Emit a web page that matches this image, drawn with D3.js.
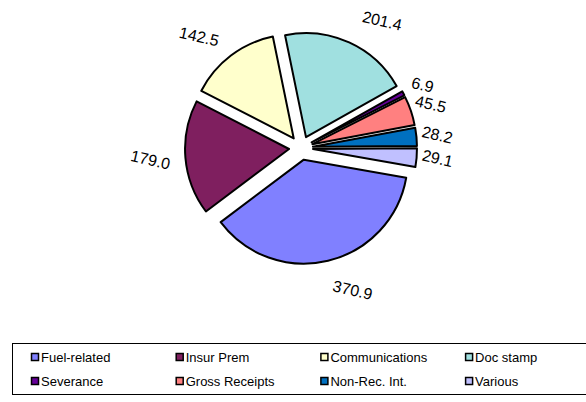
<!DOCTYPE html>
<html>
<head>
<meta charset="utf-8">
<script src="https://cdn.jsdelivr.net/npm/d3@7"></script>
<style>
  body { margin: 0; background: #fff; }
  svg { display: block; font-family: Arial, "Liberation Sans", sans-serif; }
</style>
</head>
<body>
<script>
// slice data, in drawing order (clockwise)
var categories = ["Fuel-related", "Insur Prem", "Communications", "Doc stamp",
                  "Severance", "Gross Receipts", "Non-Rec. Int.", "Various"];
var values = [370.9, 179.0, 142.5, 201.4, 6.9, 45.5, 28.2, 29.1];
var colors = ["#8080FF", "#7F1F5F", "#FFFFCC", "#A0E0E0",
              "#660099", "#FF8080", "#0070C0", "#C0C0FF"];
// small angular nudges (deg) for label placement, like the original layout
var labelNudge = [-6.5, 0.4, -5.3, 8, 0.6, 0, 0, -0.5];

var w = 586, h = 402;
var cx = 301, cy = 148;
var radius = 104;
var explode = 12;
var startDeg = 100;

var svg = d3.select("body").append("svg")
    .attr("width", w)
    .attr("height", h);

var pie = d3.pie()
    .sort(null)
    .startAngle(startDeg * Math.PI / 180)
    .endAngle(startDeg * Math.PI / 180 + 2 * Math.PI);

var arc = d3.arc()
    .innerRadius(0)
    .outerRadius(radius);

var slices = pie(values);

svg.selectAll("path.slice")
    .data(slices)
    .enter()
    .append("path")
    .attr("class", "slice")
    .attr("transform", function(d) {
        var m = (d.startAngle + d.endAngle) / 2;
        return "translate(" + (cx + explode * Math.sin(m)) + "," + (cy - explode * Math.cos(m)) + ")";
    })
    .attr("d", arc)
    .attr("fill", function(d, i) { return colors[i]; })
    .attr("stroke", "#000")
    .attr("stroke-width", 2)
    .attr("stroke-linejoin", "round");

// value labels outside each slice, tilted like the original
svg.selectAll("text.val")
    .data(slices)
    .enter()
    .append("text")
    .attr("class", "val")
    .attr("font-size", 16)
    .attr("text-anchor", "middle")
    .attr("dy", "0.35em")
    .attr("fill", "#000")
    .attr("transform", function(d, i) {
        var m = (d.startAngle + d.endAngle) / 2 + labelNudge[i] * Math.PI / 180;
        var span = (d.endAngle - d.startAngle) * 180 / Math.PI;
        var r = span < 20 ? 137 : 151;
        return "translate(" + (cx + r * Math.sin(m)) + "," + (cy - r * Math.cos(m)) + ") rotate(13)";
    })
    .text(function(d) { return d.value.toFixed(1); });

// legend
var legendX = 12, legendY = 343, legendH = 51;
svg.append("rect")
    .attr("x", legendX + 0.5)
    .attr("y", legendY + 0.5)
    .attr("width", w - legendX + 10)
    .attr("height", legendH)
    .attr("fill", "#fff")
    .attr("stroke", "#000")
    .attr("stroke-width", 1);

var colX = d3.scaleBand().domain([0, 1, 2, 3]).range([31, 31 + 4 * 144.7]);
var rowY = d3.scaleBand().domain([0, 1]).range([345, 393]);

var items = svg.selectAll("g.legend")
    .data(categories)
    .enter()
    .append("g")
    .attr("class", "legend")
    .attr("transform", function(d, i) {
        return "translate(" + colX(i % 4) + "," + (rowY(Math.floor(i / 4)) + rowY.bandwidth() / 2) + ")";
    });

items.append("rect")
    .attr("x", 0.5)
    .attr("y", -3.5)
    .attr("width", 7)
    .attr("height", 7)
    .attr("fill", function(d, i) { return colors[i]; })
    .attr("stroke", "#000")
    .attr("stroke-width", 1.5);

items.append("text")
    .attr("x", 10)
    .attr("dy", "0.36em")
    .attr("font-size", 13)
    .attr("fill", "#000")
    .text(function(d) { return d; });
</script>
</body>
</html>
